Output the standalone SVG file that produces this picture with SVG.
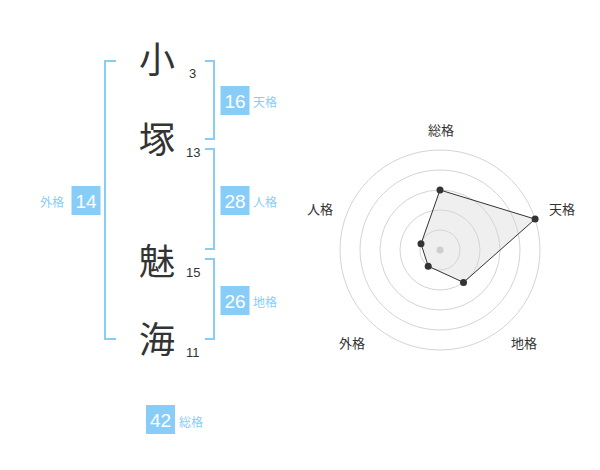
<svg xmlns="http://www.w3.org/2000/svg" width="600" height="470" viewBox="0 0 600 470">
<style>
.ch{font-family:"Noto Sans CJK JP","Noto Sans CJK SC",sans-serif;font-size:36px;fill:#333;text-anchor:middle}
.st{font-family:"Liberation Sans",Arial,sans-serif;font-size:13px;fill:#333}
.br{fill:none;stroke:#88cdf8;stroke-width:2}
.box{fill:#88cdf8}
.bn{font-family:"Liberation Sans",Arial,sans-serif;font-size:19px;fill:#fff;text-anchor:middle}
.bl{font-family:"Noto Sans CJK JP","Noto Sans CJK SC",sans-serif;font-size:12px;fill:#88cdf8}
.ring{fill:none;stroke:#d4d4d4;stroke-width:1}
.rl{font-family:"Noto Sans CJK JP","Noto Sans CJK SC",sans-serif;font-size:13px;fill:#333;text-anchor:middle}
</style>
<rect width="600" height="470" fill="#fff"/>
<g id="connectors">
<path class="br" d="M116,61 H105 V339 H116"/>
<path class="br" d="M205,61 H214 V139 H205"/>
<path class="br" d="M205,149 H214 V249 H205"/>
<path class="br" d="M205,259 H214 V339 H205"/>
</g>
<g id="char-1"><text class="ch" x="157" y="73">小</text><text class="st" x="189" y="78">3</text></g>
<g id="char-2"><text class="ch" x="157" y="153">塚</text><text class="st" x="186" y="157">13</text></g>
<g id="char-3"><text class="ch" x="157" y="275">魅</text><text class="st" x="186" y="277">15</text></g>
<g id="char-4"><text class="ch" x="157" y="353">海</text><text class="st" x="186" y="357">11</text></g>
<g id="tenkaku"><rect class="box" x="220.5" y="86" width="29" height="29"/><text class="bn" x="235" y="107.5">16</text><text class="bl" x="253" y="107">天格</text></g>
<g id="jinkaku"><rect class="box" x="220.5" y="186" width="29" height="29"/><text class="bn" x="235" y="207.5">28</text><text class="bl" x="253" y="207">人格</text></g>
<g id="chikaku"><rect class="box" x="220.5" y="286" width="29" height="29"/><text class="bn" x="235" y="307.5">26</text><text class="bl" x="253" y="307">地格</text></g>
<g id="gaikaku"><rect class="box" x="71.5" y="186" width="29" height="29"/><text class="bn" x="86" y="207.5">14</text><text class="bl" x="40" y="207">外格</text></g>
<g id="soukaku"><rect class="box" x="146" y="405" width="29" height="29"/><text class="bn" x="160.5" y="426.5">42</text><text class="bl" x="179" y="427">総格</text></g>
<g id="radar">
<circle class="ring" cx="440" cy="250" r="20"/>
<circle class="ring" cx="440" cy="250" r="40"/>
<circle class="ring" cx="440" cy="250" r="60"/>
<circle class="ring" cx="440" cy="250" r="80"/>
<circle class="ring" cx="440" cy="250" r="100"/>
<circle cx="440" cy="250" r="3.5" fill="#c8c8c8"/>
<polygon points="440,190 535.1,219.1 463.5,282.4 428.2,266.2 421,243.8" fill="#d8d8d8" fill-opacity="0.4" stroke="#333" stroke-width="1"/>
<g fill="#333">
<circle cx="440" cy="190" r="3.5"/>
<circle cx="535.1" cy="219.1" r="3.5"/>
<circle cx="463.5" cy="282.4" r="3.5"/>
<circle cx="428.2" cy="266.2" r="3.5"/>
<circle cx="421" cy="243.8" r="3.5"/>
</g>
<text class="rl" x="441" y="135">総格</text>
<text class="rl" x="562" y="214">天格</text>
<text class="rl" x="320" y="214">人格</text>
<text class="rl" x="352" y="348">外格</text>
<text class="rl" x="524" y="348">地格</text>
</g>
</svg>
